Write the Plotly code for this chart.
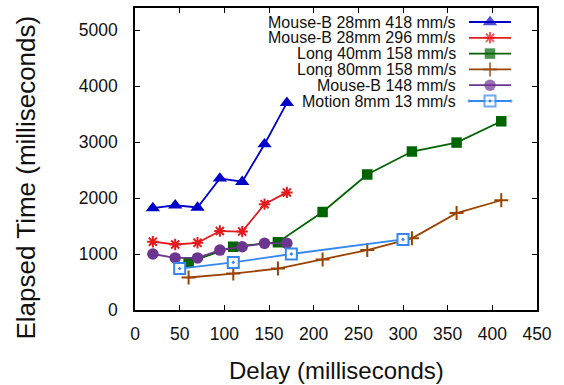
import plotly.graph_objects as go

# ---- data ----
names = ["Mouse-B 28mm 418 mm/s", "Mouse-B 28mm 296 mm/s", "Long 40mm 158 mm/s",
         "Long 80mm 158 mm/s", "Mouse-B 148 mm/s", "Motion 8mm 13 mm/s"]

mb418_x = [20, 45, 70, 95, 120, 145, 170]
mb418_y = [1820, 1870, 1830, 2350, 2290, 2960, 3700]

mb296_x = [20, 45, 70, 95, 120, 145, 170]
mb296_y = [1220, 1170, 1200, 1410, 1400, 1890, 2100]

long40_x = [60, 110, 160, 210, 260, 310, 360, 410]
long40_y = [850, 1130, 1210, 1750, 2420, 2830, 2990, 3370]

long80_x = [60, 110, 160, 210, 260, 310, 360, 410]
long80_y = [580, 650, 740, 900, 1070, 1280, 1730, 1960]

mb148_x = [20, 45, 70, 95, 120, 145, 170]
mb148_y = [1000, 930, 930, 1070, 1130, 1190, 1190]

motion_x = [50, 110, 175, 300]
motion_y = [740, 850, 1000, 1260]

x_ticks = [0, 50, 100, 150, 200, 250, 300, 350, 400, 450]
y_ticks = [0, 1000, 2000, 3000, 4000, 5000]

x_title = "Delay (milliseconds)"
y_title = "Elapsed Time (milliseconds)"

# ---- styles ----
W, H = 564, 385
L, R, T, B = 135, 27, 8, 75
FONT = "Liberation Sans, Arial, sans-serif"

styles = [
    dict(color="#0000c8", symbol="triangle-up", size=12.5, fill="#0000c8", lw=0),
    dict(color="#e41a1c", symbol="asterisk-open", size=9.5, fill="#e41a1c", lw=2),
    dict(color="#006400", symbol="square", size=10.5, fill="#006400", lw=0),
    dict(color="#9a4300", symbol="cross-thin-open", size=10, fill="#9a4300", lw=2),
    dict(color="#6b3590", symbol="circle", size=11.5, fill="#6b3590", lw=0),
    dict(color="#3388f0", symbol="square-dot", size=11, fill="white", lw=2),
]
series = [(mb418_x, mb418_y), (mb296_x, mb296_y), (long40_x, long40_y),
          (long80_x, long80_y), (mb148_x, mb148_y), (motion_x, motion_y)]

fig = go.Figure()
for name, (xs, ys), st in zip(names, series, styles):
    fig.add_trace(go.Scatter(
        x=xs, y=ys, mode="lines+markers", name=name, showlegend=False,
        line=dict(color=st["color"], width=1.8),
        marker=dict(symbol=st["symbol"], size=st["size"], color=st["fill"],
                    line=dict(color=st["color"], width=st["lw"])),
    ))

pw, ph = W - L - R, H - T - B


def px(xp):
    return (xp - L) / pw


def py(yp):
    return 1 - (yp - T) / ph


# ---- custom gnuplot-style legend (text right, sample on the right) ----
row0, row_gap = 22, 15.8
text_right, s_left, s_mid, s_right = 458, 469, 490, 511
for i, (name, st) in enumerate(zip(names, styles)):
    yy = row0 + i * row_gap
    fig.add_trace(go.Scatter(
        x=[s_left - L, s_mid - L, s_right - L], y=[yy - T] * 3,
        xaxis="x2", yaxis="y2", mode="lines+markers", showlegend=False,
        hoverinfo="skip",
        line=dict(color=st["color"], width=1.8),
        marker=dict(symbol=st["symbol"], size=[0, st["size"], 0], color=st["fill"],
                    line=dict(color=st["color"], width=st["lw"])),
    ))
    fig.add_annotation(x=px(text_right), y=py(yy), xref="paper", yref="paper",
                       text=name, showarrow=False, xanchor="right", yanchor="middle",
                       height=15, valign="middle",
                       font=dict(family=FONT, size=16, color="#111111"))

# axis titles
fig.add_annotation(x=px(336), y=py(370.5), xref="paper", yref="paper", text=x_title,
                   showarrow=False, xanchor="center", yanchor="middle",
                   font=dict(family=FONT, size=24, color="#111111"))
fig.add_annotation(x=px(25.5), y=py(178), xref="paper", yref="paper", text=y_title,
                   textangle=-90, showarrow=False, xanchor="center", yanchor="middle",
                   font=dict(family=FONT, size=26, color="#111111"))

axis_common = dict(showline=True, linecolor="black", linewidth=1.5, mirror="ticks",
                   ticks="inside", ticklen=5, tickwidth=1.2, tickcolor="black",
                   showgrid=False, zeroline=False, automargin=False,
                   tickfont=dict(family=FONT, size=17.5, color="#111111"))

fig.update_layout(
    width=W, height=H,
    margin=dict(l=L, r=R, t=T, b=B),
    paper_bgcolor="white", plot_bgcolor="white",
    xaxis=dict(range=[0, 450], tickvals=x_ticks, ticklabelstandoff=7, **axis_common),
    yaxis=dict(range=[0, 5393], tickvals=y_ticks, ticklabelstandoff=12, **axis_common),
    xaxis2=dict(range=[0, pw], overlaying="x", visible=False, fixedrange=True),
    yaxis2=dict(range=[ph, 0], overlaying="y", visible=False, fixedrange=True),
    showlegend=False,
)

fig.write_html("out.html", config={"displayModeBar": False},
               post_script="document.body.style.margin='0px';")
